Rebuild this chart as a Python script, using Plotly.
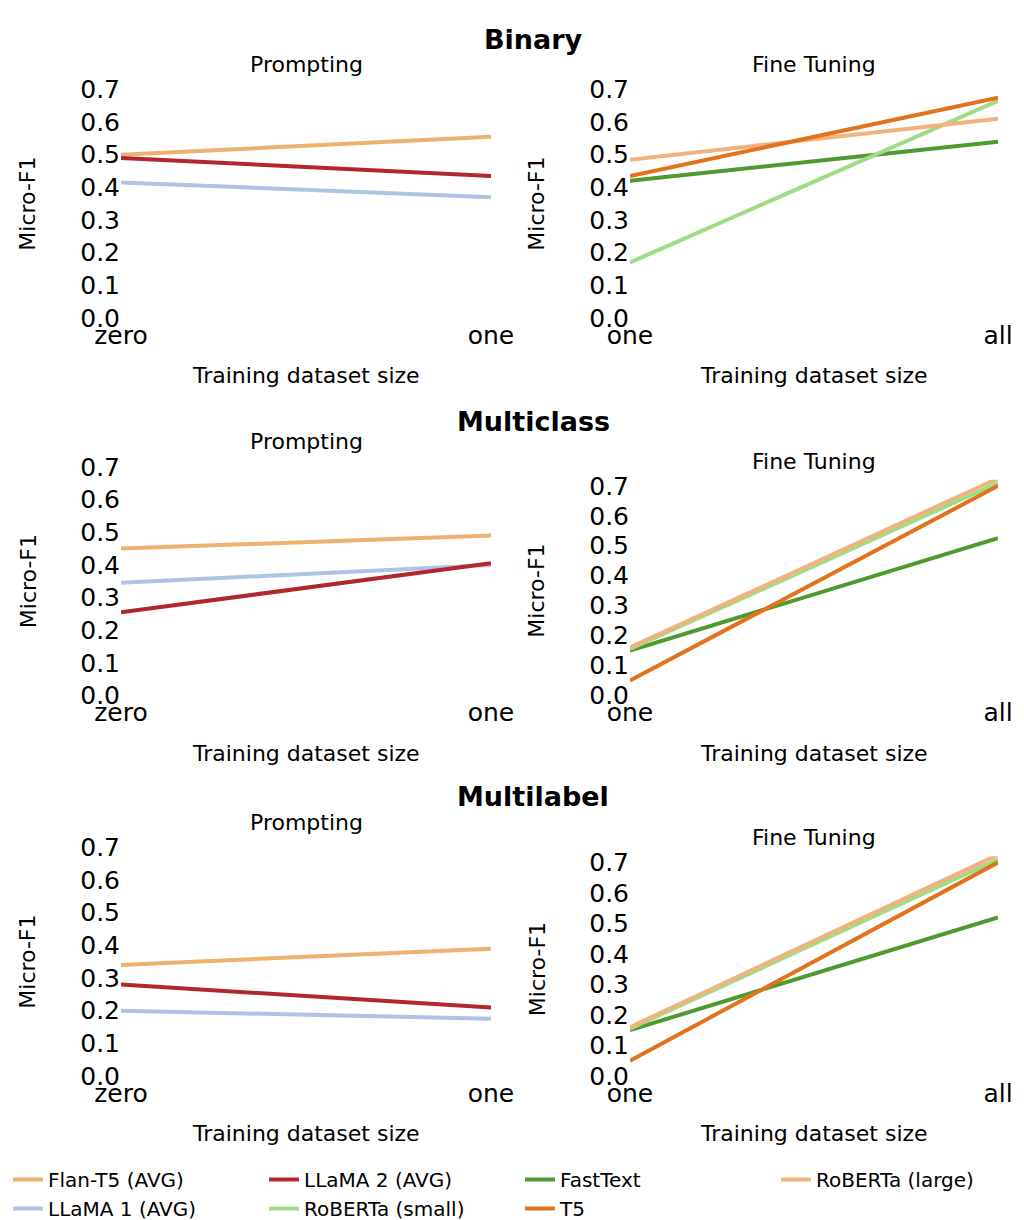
import plotly.graph_objects as go

W, H = 1024, 1220

series = ["Flan-T5 (AVG)", "LLaMA 1 (AVG)", "LLaMA 2 (AVG)", "FastText",
          "RoBERTa (small)", "RoBERTa (large)", "T5"]
colors = {"Flan-T5 (AVG)": "#EDB26F", "LLaMA 1 (AVG)": "#AEC3E6", "LLaMA 2 (AVG)": "#B3262B",
          "FastText": "#4F9A2E", "RoBERTa (small)": "#9FDC86", "RoBERTa (large)": "#F2B27E",
          "T5": "#E3721D"}
legend_rank = {"Flan-T5 (AVG)": 1, "LLaMA 2 (AVG)": 2, "FastText": 3, "RoBERTa (large)": 4,
               "LLaMA 1 (AVG)": 5, "RoBERTa (small)": 6, "T5": 7}

prompt_x = ["zero", "one"]
ft_x = ["one", "all"]

binary_prompt = {"Flan-T5 (AVG)": [0.50, 0.555], "LLaMA 2 (AVG)": [0.49, 0.435],
                 "LLaMA 1 (AVG)": [0.415, 0.37]}
binary_ft = {"RoBERTa (large)": [0.485, 0.61], "FastText": [0.42, 0.54],
             "RoBERTa (small)": [0.17, 0.665], "T5": [0.435, 0.675]}
multiclass_prompt = {"Flan-T5 (AVG)": [0.45, 0.49], "LLaMA 1 (AVG)": [0.345, 0.40],
                     "LLaMA 2 (AVG)": [0.255, 0.405]}
multiclass_ft = {"FastText": [0.15, 0.525], "RoBERTa (small)": [0.155, 0.71],
                 "RoBERTa (large)": [0.16, 0.725], "T5": [0.05, 0.70]}
multilabel_prompt = {"Flan-T5 (AVG)": [0.34, 0.39], "LLaMA 2 (AVG)": [0.28, 0.21],
                     "LLaMA 1 (AVG)": [0.20, 0.175]}
multilabel_ft = {"FastText": [0.15, 0.52], "RoBERTa (small)": [0.155, 0.71],
                 "RoBERTa (large)": [0.16, 0.725], "T5": [0.05, 0.70]}

yticks = [0.0, 0.1, 0.2, 0.3, 0.4, 0.5, 0.6, 0.7]

# (data, x categories, x pixel span, y pixel of 0, y pixel of 0.7)
panels = [
    (binary_prompt, prompt_x, (113, 483), 312, 82),
    (binary_ft, ft_x, (622, 990), 312, 82),
    (multiclass_prompt, prompt_x, (113, 483), 692, 462),
    (multiclass_ft, ft_x, (622, 990), 692, 481),
    (multilabel_prompt, prompt_x, (113, 483), 1075, 845),
    (multilabel_ft, ft_x, (622, 990), 1075, 860),
]

fig = go.Figure()
shown = set()
annotations = []
font = dict(family="DejaVu Sans", color="black")

for i, (data, xs, (x0, x1), y0, y7) in enumerate(panels):
    n = "" if i == 0 else str(i + 1)
    ymax = 0.72
    top = y0 - (y0 - y7) / 0.7 * ymax
    for name in series:
        if name not in data:
            continue
        fig.add_trace(go.Scatter(
            x=[0, 1], y=data[name], mode="lines", name=name,
            line=dict(color=colors[name], width=4),
            legendrank=legend_rank[name],
            showlegend=name not in shown,
            xaxis="x" + n, yaxis="y" + n))
        shown.add(name)
    fig.update_layout({
        "xaxis" + n: dict(domain=[x0 / W, x1 / W], range=[0, 1], tickvals=[0, 1],
                          ticktext=xs, showgrid=False, zeroline=False, showline=False,
                          tickfont=dict(size=25), anchor="y" + n, ticklen=0,
                          automargin=False),
        "yaxis" + n: dict(domain=[1 - y0 / H, 1 - top / H], range=[0, ymax],
                          tickvals=yticks, tickformat=".1f", showgrid=False,
                          zeroline=False, showline=False, tickfont=dict(size=25),
                          anchor="x" + n, ticklen=0, automargin=False),
    })
    cx = (x0 + x1) / 2 / W
    annotations.append(dict(text="Prompting" if i % 2 == 0 else "Fine Tuning",
                            x=cx, y=1 - (top - 4) / H, xref="paper", yref="paper",
                            xanchor="center", yanchor="bottom", showarrow=False,
                            font=dict(size=22)))
    annotations.append(dict(text="Training dataset size", x=cx, y=1 - (y0 + 58) / H,
                            xref="paper", yref="paper", xanchor="center", yanchor="middle",
                            showarrow=False, font=dict(size=22)))
    annotations.append(dict(text="Micro-F1", x=(x0 - 93) / W, y=1 - (y0 + y7) / 2 / H,
                            xref="paper", yref="paper", xanchor="center", yanchor="middle",
                            showarrow=False, textangle=-90, font=dict(size=22)))

for title, ypx in [("Binary", 32), ("Multiclass", 416), ("Multilabel", 794)]:
    annotations.append(dict(text="<b>" + title + "</b>", x=0.513, y=1 - ypx / H,
                            xref="paper", yref="paper", xanchor="center", yanchor="middle",
                            showarrow=False, font=dict(size=27)))

fig.update_layout(
    width=W, height=H, margin=dict(l=0, r=0, t=0, b=0),
    plot_bgcolor="white", paper_bgcolor="white", font=font,
    annotations=annotations,
    legend=dict(orientation="h", x=0.02, y=1 - 1160 / H, yanchor="top",
                entrywidth=0.25, entrywidthmode="fraction", font=dict(size=20),
                traceorder="normal"),
)

fig.write_html("out.html")
